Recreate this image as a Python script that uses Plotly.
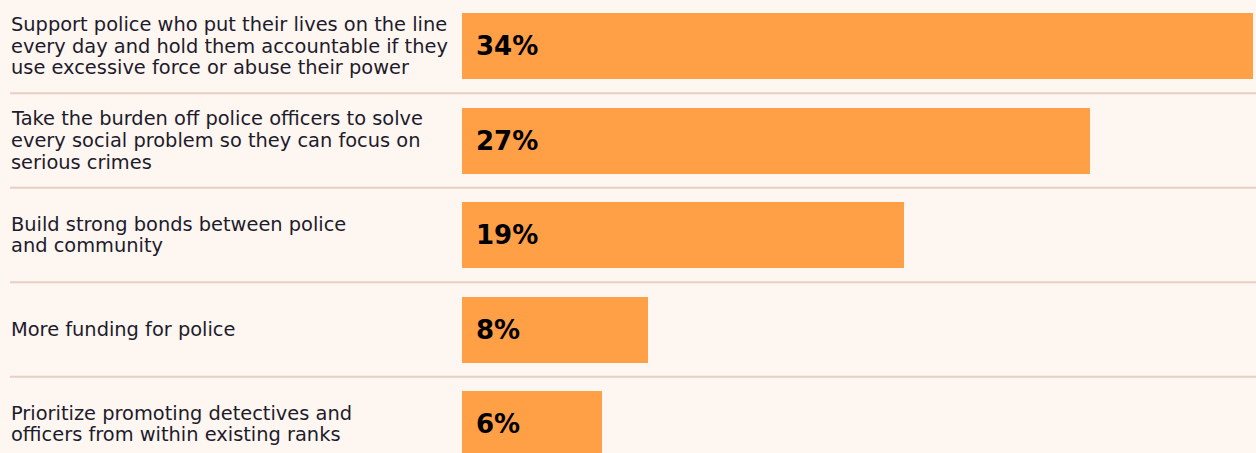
import plotly.graph_objects as go

categories = [
    "Support police who put their lives on the line<br>every day and hold them accountable if they<br>use excessive force or abuse their power",
    "Take the burden off police officers to solve<br>every social problem so they can focus on<br>serious crimes",
    "Build strong bonds between police<br>and community",
    "More funding for police",
    "Prioritize promoting detectives and<br>officers from within existing ranks",
]
values = [34, 27, 19, 8, 6]
value_labels = ["34%", "27%", "19%", "8%", "6%"]

BG = "#FEF6F0"
BAR = "#FF9F46"
TEXT = "#1D1B2C"
LINE = "#E6D0C6"

W, H = 1256, 453
L = 462
plot_w = W - L
px_per_unit = 23.26
pitch = 94.5
first_center = 46
line_h = 21.7

fig = go.Figure()
fig.add_trace(go.Bar(
    x=values,
    y=list(range(len(categories))),
    orientation="h",
    marker=dict(color=BAR, line=dict(width=0)),
    width=66 / pitch,
    hoverinfo="skip",
))

y_top = -first_center / pitch
y_bot = (H - first_center) / pitch

annotations = []
for i, (cat, lab) in enumerate(zip(categories, value_labels)):
    lines = cat.split("<br>")
    n = len(lines)
    for j, ln in enumerate(lines):
        annotations.append(dict(
            x=(9 - L) / plot_w, xref="paper", y=i, yref="y",
            yshift=((n - 1) / 2 - j) * line_h,
            text=ln, showarrow=False, xanchor="left", yanchor="middle", align="left",
            font=dict(family="DejaVu Sans, sans-serif", size=19.4, color=TEXT),
        ))
    annotations.append(dict(
        x=0, xref="x", y=i, yref="y", xshift=12,
        text="<b>" + lab + "</b>", showarrow=False, xanchor="left", yanchor="middle",
        font=dict(family="DejaVu Sans, sans-serif", size=26, color="#000000"),
    ))

shapes = []
for i in range(len(categories) - 1):
    shapes.append(dict(
        type="line", xref="paper", yref="y",
        x0=(10 - L) / plot_w, x1=1.0, y0=i + 0.5, y1=i + 0.5,
        line=dict(color=LINE, width=2),
    ))

fig.update_layout(
    width=W, height=H,
    margin=dict(l=L, r=0, t=0, b=0),
    paper_bgcolor=BG, plot_bgcolor=BG,
    showlegend=False,
    xaxis=dict(range=[0, plot_w / px_per_unit], visible=False, fixedrange=True),
    yaxis=dict(range=[y_bot, y_top], visible=False, fixedrange=True),
    annotations=annotations,
    shapes=shapes,
    bargap=0,
)

fig.write_html("out.html")
